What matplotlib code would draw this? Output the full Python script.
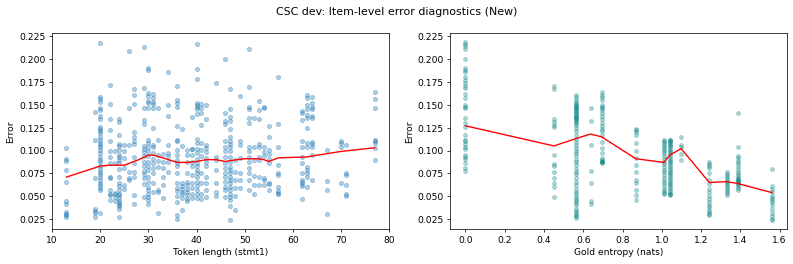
import numpy as np
import matplotlib
matplotlib.use("Agg")
from matplotlib import pyplot as plt

# left panel: token length columns and the error values read at each one
tok_len = [13, 19, 20, 22, 23, 24, 25, 26, 27, 29, 30, 31, 32, 33, 34, 36, 37,
           38, 39, 40, 41, 42, 44, 46, 47, 48, 49, 51, 52, 53, 54, 55, 57, 62,
           63, 64, 67, 70, 71, 77]
tok_err = [
    [0.103, 0.091, 0.089, 0.079, 0.066, 0.045, 0.042, 0.033, 0.031, 0.029, 0.027],
    [0.142, 0.111, 0.070, 0.036, 0.034, 0.032, 0.027],
    [0.218, 0.159, 0.156, 0.153, 0.146, 0.144, 0.138, 0.134, 0.126, 0.123, 0.121,
     0.119, 0.115, 0.111, 0.108, 0.106, 0.104, 0.101, 0.097, 0.093, 0.090, 0.087,
     0.083, 0.080, 0.077, 0.074, 0.071, 0.068, 0.065, 0.062, 0.059, 0.057, 0.032],
    [0.172, 0.151, 0.134, 0.122, 0.110, 0.100, 0.093, 0.086, 0.071, 0.070, 0.057,
     0.053, 0.051, 0.046],
    [0.099, 0.086, 0.054, 0.052, 0.049, 0.045],
    [0.134, 0.131, 0.117, 0.107, 0.105, 0.101, 0.095, 0.093, 0.090, 0.086, 0.080,
     0.071, 0.065, 0.061, 0.057, 0.053, 0.051, 0.048, 0.045, 0.043, 0.041, 0.039,
     0.036, 0.027],
    [0.106, 0.099, 0.092, 0.081, 0.062, 0.058],
    [0.209, 0.147, 0.106, 0.076, 0.070, 0.068],
    [0.167, 0.161, 0.151, 0.120, 0.115, 0.110, 0.107, 0.093, 0.086, 0.077, 0.071,
     0.051, 0.042],
    [0.213, 0.168, 0.147, 0.133, 0.129, 0.105, 0.102, 0.098, 0.094, 0.088, 0.083,
     0.078, 0.074, 0.070, 0.063, 0.049],
    [0.190, 0.188, 0.163, 0.160, 0.154, 0.152, 0.147, 0.112, 0.108, 0.104, 0.099,
     0.094, 0.088, 0.083, 0.079, 0.071, 0.066, 0.060, 0.057, 0.053, 0.049, 0.046,
     0.042],
    [0.162, 0.157, 0.153, 0.151, 0.146, 0.125, 0.106, 0.104, 0.097, 0.091, 0.086,
     0.081, 0.075, 0.064, 0.055],
    [0.146, 0.112, 0.095, 0.089, 0.082, 0.057, 0.055, 0.032],
    [0.096, 0.088, 0.081, 0.071, 0.062, 0.048],
    [0.186, 0.150, 0.138, 0.106, 0.097, 0.094, 0.088, 0.077],
    [0.170, 0.155, 0.152, 0.148, 0.127, 0.111, 0.110, 0.101, 0.095, 0.090, 0.086,
     0.083, 0.075, 0.064, 0.059, 0.056, 0.050, 0.044, 0.030, 0.025],
    [0.124, 0.105, 0.064, 0.061, 0.058, 0.055, 0.052, 0.048, 0.035],
    [0.101, 0.095, 0.088, 0.075, 0.066, 0.062, 0.058, 0.055, 0.051, 0.047, 0.045],
    [0.137, 0.102, 0.102, 0.095, 0.088, 0.083, 0.073, 0.064, 0.059, 0.053, 0.048],
    [0.216, 0.189, 0.178, 0.152, 0.150, 0.148, 0.145, 0.140, 0.113, 0.108, 0.102,
     0.097, 0.091, 0.086, 0.083, 0.079, 0.075, 0.071, 0.066, 0.061, 0.057, 0.053,
     0.048],
    [0.151, 0.147, 0.141, 0.128, 0.108, 0.101, 0.094, 0.075, 0.064, 0.052, 0.047],
    [0.150, 0.134, 0.106, 0.103, 0.098, 0.092, 0.088, 0.083, 0.071, 0.064, 0.057,
     0.049],
    [0.174, 0.093, 0.090, 0.079, 0.064, 0.055, 0.050],
    [0.200, 0.141, 0.132, 0.129, 0.110, 0.104, 0.099, 0.093, 0.086, 0.081, 0.075,
     0.071, 0.066, 0.060, 0.057, 0.049],
    [0.167, 0.145, 0.137, 0.132, 0.124, 0.115, 0.110, 0.107, 0.104, 0.099, 0.093,
     0.088, 0.082, 0.079, 0.075, 0.071, 0.068, 0.064, 0.060, 0.057, 0.053, 0.049,
     0.046, 0.039, 0.024],
    [0.090, 0.077, 0.068, 0.059, 0.050, 0.035],
    [0.160, 0.110, 0.106, 0.092, 0.075, 0.068, 0.059],
    [0.211, 0.169, 0.148, 0.145, 0.135, 0.130, 0.104, 0.099, 0.093, 0.088, 0.081,
     0.075, 0.068, 0.057],
    [0.136, 0.104, 0.090, 0.072, 0.062, 0.053],
    [0.154, 0.144, 0.134, 0.107, 0.104, 0.093, 0.090, 0.071, 0.062],
    [0.148, 0.146, 0.104, 0.098, 0.094, 0.070, 0.068, 0.062],
    [0.127, 0.115, 0.101, 0.096, 0.091, 0.086, 0.065, 0.063, 0.057],
    [0.180, 0.129, 0.104, 0.084, 0.075, 0.073, 0.060, 0.056, 0.054, 0.052],
    [0.143, 0.141, 0.133, 0.110, 0.104, 0.093, 0.086, 0.075, 0.068, 0.066, 0.063,
     0.061, 0.047],
    [0.161, 0.157, 0.150, 0.145, 0.139, 0.135, 0.125, 0.108, 0.104, 0.082, 0.079,
     0.075, 0.071, 0.060],
    [0.158, 0.152, 0.148, 0.145, 0.138, 0.135, 0.109, 0.107, 0.104, 0.095, 0.068],
    [0.101, 0.067, 0.057, 0.031],
    [0.110, 0.108, 0.104, 0.065],
    [0.106, 0.075, 0.073, 0.062, 0.053, 0.050],
    [0.164, 0.156, 0.147, 0.111, 0.110, 0.108, 0.103, 0.090],
]
# smoothed trend (red line), left panel
trend_len = [13, 20, 22, 25, 28, 30, 31, 33, 36, 38, 40, 42, 44, 46, 47, 50,
             53, 54, 55, 57, 63, 64, 70, 77]
trend_len_err = [0.071, 0.083, 0.084, 0.084, 0.090, 0.095, 0.095, 0.092, 0.087,
                 0.087, 0.088, 0.090, 0.090, 0.088, 0.089, 0.091, 0.091, 0.090,
                 0.088, 0.092, 0.093, 0.094, 0.099, 0.103]

# right panel: gold entropy columns
ent_vals = [0.0, 0.451, 0.562, 0.637, 0.693, 0.868, 1.011, 1.040, 1.099,
            1.242, 1.330, 1.386, 1.561]
ent_err = [
    [0.219, 0.216, 0.214, 0.211, 0.200, 0.190, 0.188, 0.186, 0.180, 0.177, 0.174,
     0.170, 0.168, 0.162, 0.157, 0.150, 0.148, 0.146, 0.136, 0.130, 0.126, 0.117,
     0.112, 0.110, 0.107, 0.104, 0.102, 0.095, 0.093, 0.091, 0.086, 0.081, 0.078],
    [0.170, 0.167, 0.134, 0.131, 0.128, 0.126, 0.095, 0.085, 0.083, 0.077, 0.070,
     0.065, 0.060, 0.049],
    [0.161, 0.158, 0.155, 0.153, 0.151, 0.150, 0.149, 0.147, 0.146, 0.145, 0.143,
     0.142, 0.141, 0.139, 0.138, 0.137, 0.135, 0.134, 0.133, 0.131, 0.130, 0.128,
     0.125, 0.121, 0.117, 0.113, 0.109, 0.106, 0.103, 0.100, 0.097, 0.094, 0.090,
     0.087, 0.084, 0.080, 0.077, 0.074, 0.070, 0.066, 0.062, 0.058, 0.055, 0.052,
     0.049, 0.047, 0.045, 0.043, 0.040, 0.036, 0.034, 0.032, 0.030, 0.028, 0.026],
    [0.146, 0.132, 0.106, 0.078, 0.065, 0.045, 0.042],
    [0.164, 0.161, 0.158, 0.155, 0.150, 0.148, 0.146, 0.144, 0.141, 0.138, 0.134,
     0.130, 0.127, 0.124, 0.121, 0.117, 0.109, 0.103, 0.097, 0.092, 0.090, 0.089,
     0.088, 0.087, 0.086],
    [0.124, 0.122, 0.120, 0.117, 0.108, 0.100, 0.092, 0.084, 0.077, 0.068, 0.065,
     0.057, 0.051, 0.046],
    [0.112, 0.110, 0.108, 0.106, 0.104, 0.102, 0.100, 0.097, 0.094, 0.091, 0.088,
     0.085, 0.082, 0.079, 0.076, 0.073, 0.070, 0.067, 0.064, 0.061, 0.058, 0.056,
     0.054, 0.052],
    [0.112, 0.111, 0.110, 0.109, 0.107, 0.106, 0.105, 0.103, 0.101, 0.099, 0.097,
     0.095, 0.093, 0.091, 0.089, 0.087, 0.085, 0.083, 0.081, 0.079, 0.077, 0.075,
     0.073, 0.071, 0.069, 0.067, 0.065, 0.063, 0.061, 0.059, 0.057, 0.055, 0.053,
     0.052, 0.051],
    [0.115, 0.106, 0.104, 0.096, 0.090],
    [0.087, 0.085, 0.083, 0.081, 0.075, 0.068, 0.063, 0.058, 0.055, 0.050, 0.047,
     0.044, 0.041, 0.038, 0.035, 0.033, 0.031, 0.030],
    [0.076, 0.074, 0.072, 0.070, 0.068, 0.066, 0.064, 0.062, 0.060, 0.058, 0.056,
     0.054, 0.051],
    [0.141, 0.104, 0.094, 0.092, 0.089, 0.086, 0.083, 0.080, 0.077, 0.074, 0.072,
     0.070, 0.069, 0.068, 0.067, 0.066, 0.065, 0.063, 0.061, 0.059, 0.057],
    [0.080, 0.061, 0.058, 0.055, 0.050, 0.048, 0.046, 0.044, 0.040, 0.036, 0.032,
     0.028, 0.025, 0.024],
]
trend_ent = [0.0, 0.451, 0.562, 0.637, 0.693, 0.868, 1.011, 1.040, 1.099,
             1.242, 1.330, 1.386, 1.561]
trend_ent_err = [0.127, 0.105, 0.113, 0.118, 0.115, 0.091, 0.087, 0.095, 0.102,
                 0.065, 0.066, 0.064, 0.054]


def flatten(xs, ys):
    px, py = [], []
    for x, col in zip(xs, ys):
        px += [x] * len(col)
        py += col
    return np.array(px), np.array(py)


fig = plt.figure(figsize=(12, 4), dpi=66.1)
ax1 = fig.add_axes([0.0656, 0.1326, 0.425, 0.742])
ax2 = fig.add_axes([0.5675, 0.1326, 0.425, 0.742])

x1, y1 = flatten(tok_len, tok_err)
ax1.scatter(x1, y1, s=20, alpha=0.35, color="C0")
ax1.plot(trend_len, trend_len_err, color="red", lw=1.5)
ax1.set_xlim(10, 80)
ax1.set_ylim(0.0143, 0.2287)
ax1.set_xlabel("Token length (stmt1)")
ax1.set_ylabel("Error")

x2, y2 = flatten(ent_vals, ent_err)
ax2.scatter(x2, y2, s=18, alpha=0.3, color="teal")
ax2.plot(trend_ent, trend_ent_err, color="red", lw=1.5)
ax2.set_xlim(-0.078, 1.639)
ax2.set_ylim(0.0143, 0.2287)
ax2.set_xlabel("Gold entropy (nats)")
ax2.set_ylabel("Error")

fig.suptitle("CSC dev: Item-level error diagnostics (New)", y=0.975)
fig.savefig("out.png", dpi=66.1)
